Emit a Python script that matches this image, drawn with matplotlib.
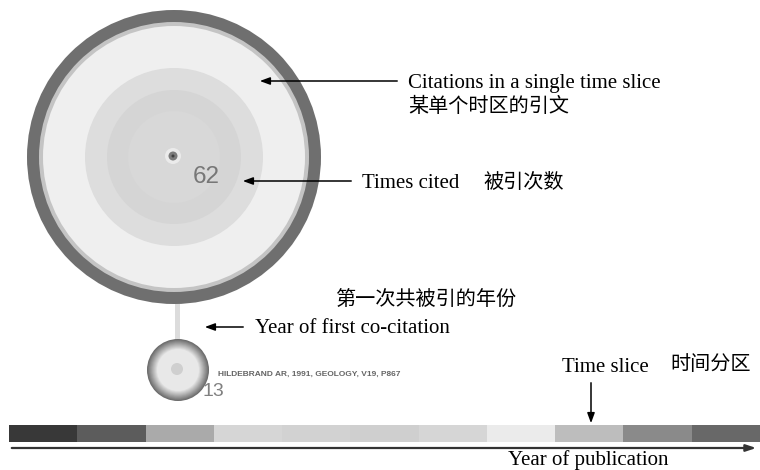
import numpy as np
import matplotlib.pyplot as plt
from matplotlib.patches import Circle, Rectangle
from matplotlib.colors import to_rgb

# ---- data ----
BIG_CITED = 62
SMALL_CITED = 13
SMALL_LABEL = "HILDEBRAND AR, 1991, GEOLOGY, V19, P867"

# tree rings of the big node, outer -> inner (radius px, grey)
RING_RADII = [147, 135, 131, 89, 67, 46]
RING_GREYS = ["#6f6f6f", "#c4c4c4", "#efefef", "#dddddd", "#d5d5d5", "#d8d8d8"]

# time slices along the publication-year bar
SLICE_GREYS = ["#383838", "#5c5c5c", "#aaaaaa", "#d6d6d6", "#d2d2d2", "#cfcfcf",
               "#d6d6d6", "#ebebeb", "#bdbdbd", "#8a8a8a", "#686868"]

EN_LABELS = ["Citations in a single time slice", "Times cited",
             "Year of first co-citation", "Time slice", "Year of publication"]
ZH_LABELS = ["某单个时区的引文", "被引次数", "第一次共被引的年份", "时间分区"]

SERIF = ["Liberation Serif", "Noto Sans CJK SC"]
CJK = ["Noto Sans CJK SC", "DejaVu Sans"]

fig = plt.figure(figsize=(7.6, 4.7), dpi=100)
ax = fig.add_axes([0, 0, 1, 1])
ax.set_xlim(0, 760)
ax.set_ylim(470, 0)
ax.axis("off")

# ---- big node ----
cx, cy = 174, 157
for r, g in zip(RING_RADII, RING_GREYS):
    ax.add_patch(Circle((cx, cy), r, color=g, lw=0, zorder=2))
ax.add_patch(Circle((173, 156), 8, color="#ebebeb", lw=0, zorder=3))
ax.add_patch(Circle((173, 156), 4.5, color="#7c7c7c", lw=0, zorder=4))
ax.add_patch(Circle((173, 156), 1.5, color="#404040", lw=0, zorder=5))
ax.text(193, 177, str(BIG_CITED), fontsize=17.5, family="Liberation Sans",
        color="#777777", ha="left", va="center", zorder=6)

# link between the two nodes
ax.plot([177, 177], [300, 342], color="#dcdcdc", lw=3.6, zorder=1,
        solid_capstyle="butt")

# ---- small node, soft shaded rim ----
sx, sy = 178, 370
edge, inner = np.array(to_rgb("#6c6c6c")), np.array(to_rgb("#e8e8e8"))
for k, r in enumerate(np.linspace(31, 21, 12)):
    t = k / 11
    ax.add_patch(Circle((sx, sy), r, color=edge * (1 - t) + inner * t, lw=0, zorder=2))
ax.add_patch(Circle((177, 369), 6, color="#cfcfcf", lw=0, zorder=3))
ax.text(203, 391, str(SMALL_CITED), fontsize=14, family="Liberation Sans",
        color="#808080", ha="left", va="center", zorder=6)
ax.text(218, 374, SMALL_LABEL, fontsize=6, family="Liberation Sans",
        weight="bold", color="#666666", ha="left", va="center", zorder=6)

# ---- time slice bar ----
x0, x1 = 9, 760
w = (x1 - x0) / len(SLICE_GREYS)
for i, g in enumerate(SLICE_GREYS):
    ax.add_patch(Rectangle((x0 + i * w, 425), w + 0.5, 17, color=g, lw=0, zorder=2))

arrow = dict(arrowstyle="-|>,head_length=0.6,head_width=0.22", color="black", lw=1.1)
ax.annotate("", xy=(759, 448), xytext=(x0, 448),
            arrowprops=dict(arrowstyle="-|>,head_length=0.6,head_width=0.2",
                            color="#333333", lw=1.6))

# ---- callouts ----
ax.annotate("", xy=(257, 81), xytext=(400, 81), arrowprops=arrow)
ax.text(408, 88, EN_LABELS[0], fontsize=15, family=SERIF, va="baseline")
ax.text(408, 107, ZH_LABELS[0], fontsize=14.5, family=CJK, va="center")

ax.annotate("", xy=(240, 181), xytext=(354, 181), arrowprops=arrow)
ax.text(362, 188, EN_LABELS[1], fontsize=15, family=SERIF, va="baseline")
ax.text(483, 182, ZH_LABELS[1], fontsize=14.5, family=CJK, va="center")

ax.text(335, 300, ZH_LABELS[2], fontsize=14.5, family=CJK, va="center")
ax.annotate("", xy=(202, 327), xytext=(246, 327), arrowprops=arrow)
ax.text(255, 333, EN_LABELS[2], fontsize=15, family=SERIF, va="baseline")

ax.text(562, 372, EN_LABELS[3], fontsize=15, family=SERIF, va="baseline")
ax.text(670, 365, ZH_LABELS[3], fontsize=14.5, family=CJK, va="center")
ax.annotate("", xy=(591, 426), xytext=(591, 380), arrowprops=arrow)

ax.text(508, 465, EN_LABELS[4], fontsize=15, family=SERIF, va="baseline")

fig.savefig("out.png", dpi=100)
